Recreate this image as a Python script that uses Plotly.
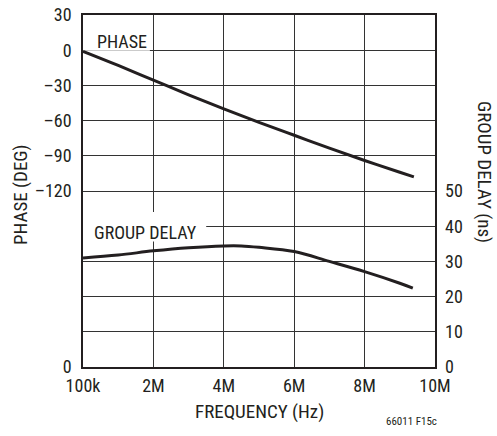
import plotly.graph_objects as go

# frequency in MHz (x axis is linear, left edge labelled 100k)
freq = [0, 1, 2, 3, 4, 5, 6, 7, 8, 9, 9.4]
phase_deg = [-1, -13, -25.5, -38, -50, -61.5, -72.5, -83.5, -94, -104, -108]

gd_freq = [0, 1, 2, 3, 4, 4.5, 5, 6, 7, 8, 9, 9.37]
group_delay_ns = [31, 31.8, 33, 33.9, 34.4, 34.4, 34.0, 32.8, 30, 27.1, 23.8, 22.4]

x_ticks = [0, 2, 4, 6, 8, 10]
x_labels = ["100k", "2M", "4M", "6M", "8M", "10M"]
phase_ticks = [30, 0, -30, -60, -90, -120, -150, -180, -210, -240, -270]
phase_labels = ["30", "0", "–30", "–60", "–90", "–120", "", "", "", "", "0"]
gd_ticks = [0, 10, 20, 30, 40, 50]

FONT = "Liberation Sans Narrow, Roboto Condensed, Arial Narrow, Liberation Sans, sans-serif"
INK = "#231f20"

W, H = 497, 436
PX0, PY0, PX1, PY1 = 83, 367, 435, 15  # plot corners in pixels
L, R, T, B = PX0, W - PX1, PY1, H - PY0
plot_w = W - L - R
plot_h = H - T - B


def px(x):
    return (x - PX0) / plot_w


def py(y):
    return (PY0 - y) / plot_h


fig = go.Figure()
fig.add_trace(go.Scatter(x=freq, y=phase_deg, mode="lines", line=dict(color=INK, width=3, shape="spline"),
                         yaxis="y", showlegend=False))
fig.add_trace(go.Scatter(x=gd_freq, y=group_delay_ns, mode="lines", line=dict(color=INK, width=3, shape="spline"),
                         yaxis="y2", showlegend=False))

# white boxes that break the grid behind the curve labels (in phase units)
fig.add_shape(type="rect", xref="x", yref="y", x0=0, x1=1.9, y0=-0.5, y1=18,
              fillcolor="white", line_width=0, layer="between")
fig.add_shape(type="rect", xref="x", yref="y", x0=0, x1=3.5, y0=-163, y1=-138,
              fillcolor="white", line_width=0, layer="between")

fig.update_layout(
    width=W, height=H,
    margin=dict(l=L, r=R, t=T, b=B),
    paper_bgcolor="white", plot_bgcolor="white",
    font=dict(family=FONT, size=18, color=INK),
    xaxis=dict(range=[0, 10], tickvals=x_ticks, ticktext=x_labels, showgrid=True, automargin=False,
               gridcolor="#333", gridwidth=1, zeroline=False, showline=True, linecolor=INK,
               linewidth=1.5, mirror=True, ticks="", ticklabelstandoff=2, ticklabeloverflow="allow"),
    yaxis=dict(range=[-270, 30], tickvals=phase_ticks, ticktext=phase_labels, showgrid=True, automargin=False,
               gridcolor="#333", gridwidth=1, zeroline=False, showline=True, linecolor=INK,
               linewidth=1.5, mirror=True, ticks="", ticklabelstandoff=6, ticklabeloverflow="allow"),
    yaxis2=dict(range=[0, 100], tickvals=gd_ticks, overlaying="y", side="right", showgrid=False,
                automargin=False, zeroline=False, showline=False, ticks="", ticklabelstandoff=9,
                ticklabeloverflow="allow"),
    annotations=[
        dict(text="PHASE", x=0.34, y=7.7, xref="x", yref="y", xanchor="left", yanchor="middle",
             showarrow=False, font=dict(size=18)),
        dict(text="GROUP DELAY", x=0.26, y=38.3, xref="x", yref="y2", xanchor="left", yanchor="middle",
             showarrow=False, font=dict(size=18)),
        dict(text="PHASE (DEG)", x=px(20), y=py(195), xref="paper", yref="paper", showarrow=False,
             xanchor="center", yanchor="middle", textangle=-90, font=dict(size=19)),
        dict(text="GROUP DELAY (ns)", x=px(485), y=py(172), xref="paper", yref="paper",
             xanchor="center", yanchor="middle", showarrow=False, textangle=90, font=dict(size=19)),
        dict(text="FREQUENCY (Hz)", x=0.5, y=py(411), xref="paper", yref="paper",
             showarrow=False, xanchor="center", yanchor="middle", font=dict(size=19)),
        dict(text="66011 F15c", x=px(411), y=py(421), xref="paper", yref="paper",
             showarrow=False, xanchor="center", yanchor="middle", font=dict(size=11)),
    ],
)

# drop the default 8px body margin so the figure fills the window exactly
fig.write_html("out.html", config={"displayModeBar": False},
               post_script="document.body.style.margin = '0';")
